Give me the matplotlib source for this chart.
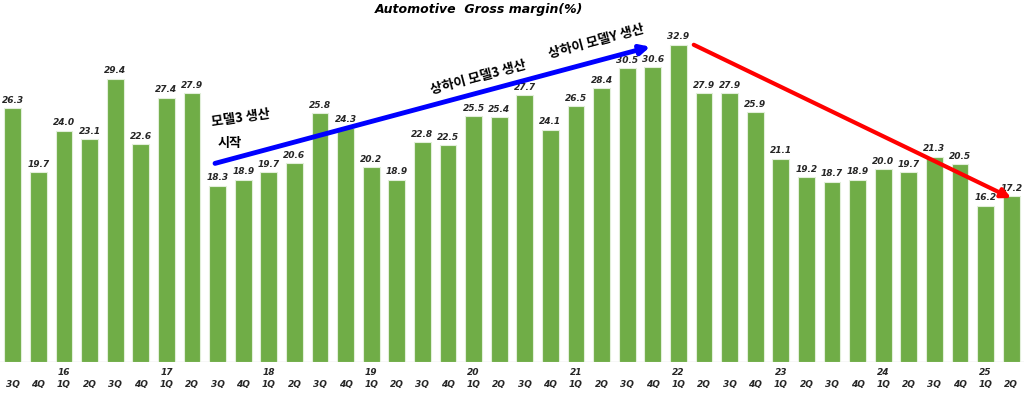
import matplotlib
matplotlib.use('Agg')
import matplotlib.pyplot as plt

quarters = ['3Q', '4Q', '1Q', '2Q'] * 10
years = ['', '', '16', '', '', '', '17', '', '', '', '18', '', '', '', '19', '', '', '', '20', '',
         '', '', '21', '', '', '', '22', '', '', '', '23', '', '', '', '24', '', '', '', '25', '']
margin = [26.3, 19.7, 24.0, 23.1, 29.4, 22.6, 27.4, 27.9, 18.3, 18.9,
          19.7, 20.6, 25.8, 24.3, 20.2, 18.9, 22.8, 22.5, 25.5, 25.4,
          27.7, 24.1, 26.5, 28.4, 30.5, 30.6, 32.9, 27.9, 27.9, 25.9,
          21.1, 19.2, 18.7, 18.9, 20.0, 19.7, 21.3, 20.5, 16.2, 17.2]

kr = ['Noto Sans CJK KR', 'DejaVu Sans']

fig = plt.figure(figsize=(10.24, 3.95), dpi=100)
ax = fig.add_axes([0.0, 0.0835, 1.0, 0.891])

x = list(range(len(margin)))
ax.bar(x, margin, width=0.66, color='#70AD47', edgecolor='#E2EFDA', linewidth=0.8, zorder=2)

for i, v in enumerate(margin):
    ax.text(i, v + 0.35, f'{v:.1f}', ha='center', va='bottom', fontsize=6.5,
            fontweight='bold', fontstyle='italic', color='#262626', zorder=4)

ax.set_xlim(-0.5, len(margin) - 0.5)
ax.set_ylim(0, 36.5)
ax.axhline(0, color='#D9D9D9', linewidth=1, zorder=1)
for s in ax.spines.values():
    s.set_visible(False)
ax.set_yticks([])
ax.set_xticks(x)
ax.set_xticklabels([f'{y}\n{q}' for y, q in zip(years, quarters)], fontsize=6.5,
                   fontweight='bold', fontstyle='italic', color='#262626', linespacing=1.5)
ax.tick_params(axis='x', length=0, pad=4)

fig.text(0.468, 0.975, 'Automotive  Gross margin(%)', ha='center', va='center',
         fontsize=9, fontweight='bold', fontstyle='italic')

# trend arrows
ax.annotate('', xy=(24.9, 32.7), xytext=(7.9, 20.6),
            arrowprops=dict(arrowstyle='-|>', color='blue', lw=3.5, mutation_scale=14,
                            shrinkA=0, shrinkB=0), zorder=5)
ax.annotate('', xy=(39.0, 17.0), xytext=(26.6, 32.9),
            arrowprops=dict(arrowstyle='-|>', color='red', lw=3, mutation_scale=14,
                            shrinkA=0, shrinkB=0), zorder=5)

ax.text(7.7, 25.3, '모델3 생산', family=kr, fontsize=9.5, fontweight='bold', rotation=8,
        ha='left', va='center')
ax.text(8.0, 22.7, '시작', family=kr, fontsize=9.5, fontweight='bold', ha='left', va='center')
ax.text(18.2, 29.5, '상하이 모델3 생산', family=kr, fontsize=9.5, fontweight='bold', rotation=15,
        ha='center', va='center')
ax.text(22.8, 33.2, '상하이 모델Y 생산', family=kr, fontsize=9.5, fontweight='bold', rotation=15,
        ha='center', va='center')

fig.savefig('out.png', dpi=100)
